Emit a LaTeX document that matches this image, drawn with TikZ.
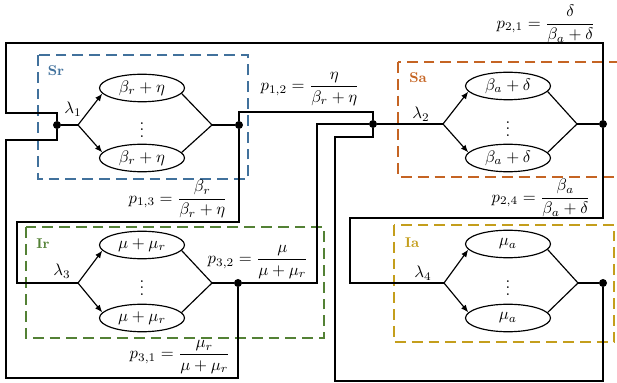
\documentclass[tikz,border=0pt]{standalone}
\usepackage{amsmath}
\usetikzlibrary{shapes.geometric,arrows.meta}
\definecolor{srblue}{RGB}{65,113,156}
\definecolor{saorange}{RGB}{197,100,35}
\definecolor{irgreen}{RGB}{83,129,53}
\definecolor{iayellow}{RGB}{196,158,28}
\begin{document}
\begin{tikzpicture}[x=0.6pt,y=-0.6pt,
  wire/.style={line width=0.7pt, black},
  server/.style={ellipse, draw, line width=0.7pt, minimum width=51pt,
    minimum height=16.5pt, inner sep=0pt},
  forkarrow/.style={wire, -{Latex[length=4.5pt,width=3.6pt]}},
  junction/.style={circle, fill, inner sep=0pt, minimum size=4.8pt},
  group/.style={line width=1.3pt, dash pattern=on 6.5pt off 3.6pt},
  grouplabel/.style={font=\fontsize{8.5}{10}\selectfont\bfseries},
  ellipsis/.style={inner sep=0pt},
  prob/.style={inner sep=0pt},
  rate/.style={inner sep=0pt}]
\useasboundingbox (0,0) rectangle (617,383);

% dashed group frames
\draw[group, srblue]   (38,55)   rectangle (248,179);
\draw[group, saorange] (398,62)  rectangle (621,177);
\draw[group, irgreen]  (26,227)  rectangle (324,338);
\draw[group, iayellow] (394,225) rectangle (614,342);
\node[grouplabel, text=srblue]   (lsr) at (56,71)  {Sr};
\node[grouplabel, text=saorange] (lsa) at (418,78) {Sa};
\node[grouplabel, text=irgreen]  (lir) at (43,244) {Ir};
\node[grouplabel, text=iayellow] (lia) at (412,243) {Ia};

% junction points
\node[junction] (i1) at (57,125) {};
\node[junction] (d1) at (239,125) {};
\node[junction] (m)  at (373,124) {};
\node[junction] (d2) at (603,124) {};
\node[junction] (d3) at (238,283) {};
\node[junction] (d4) at (603,283) {};

% fork and join points
\coordinate (f1) at (78,125);  \coordinate (j1) at (212,125);
\coordinate (f2) at (443,124); \coordinate (j2) at (577,124);
\coordinate (f3) at (78,283);  \coordinate (j3) at (212,283);
\coordinate (f4) at (444,283); \coordinate (j4) at (578,283);

% servers
\node[server] (e1a) at (142,88)  {$\beta_r+\eta$};
\node[server] (e1b) at (142,158) {$\beta_r+\eta$};
\node[ellipsis] (v1) at (142,125) {$\vdots$};
\node[server] (e2a) at (508,86)  {$\beta_a+\delta$};
\node[server] (e2b) at (508,158) {$\beta_a+\delta$};
\node[ellipsis] (v2) at (508,124) {$\vdots$};
\node[server] (e3a) at (142,245) {$\mu+\mu_r$};
\node[server] (e3b) at (142,318) {$\mu+\mu_r$};
\node[ellipsis] (v3) at (142,283) {$\vdots$};
\node[server] (e4a) at (508,244) {$\mu_a$};
\node[server] (e4b) at (508,318) {$\mu_a$};
\node[ellipsis] (v4) at (508,283) {$\vdots$};

% arrival rates
\node[rate] (l1) at (73,109)  {$\lambda_1$};
\node[rate] (l2) at (421,114) {$\lambda_2$};
\node[rate] (l3) at (62,271)  {$\lambda_3$};
\node[rate] (l4) at (423,273) {$\lambda_4$};

% parallel branches inside each group
\draw[wire] (i1) -- (f1);
\draw[forkarrow] (f1) -- (e1a.188);
\draw[forkarrow] (f1) -- (e1b.172);
\draw[wire] (e1a.-8) -- (j1) -- (e1b.8);
\draw[wire] (j1) -- (d1);

\draw[wire] (m) -- (f2);
\draw[forkarrow] (f2) -- (e2a.188);
\draw[forkarrow] (f2) -- (e2b.172);
\draw[wire] (e2a.-8) -- (j2) -- (e2b.8);
\draw[wire] (j2) -- (d2);

\draw[forkarrow] (f3) -- (e3a.188);
\draw[forkarrow] (f3) -- (e3b.172);
\draw[wire] (e3a.-8) -- (j3) -- (e3b.8);
\draw[wire] (j3) -- (d3);

\draw[forkarrow] (f4) -- (e4a.188);
\draw[forkarrow] (f4) -- (e4b.172);
\draw[wire] (e4a.-8) -- (j4) -- (e4b.8);
\draw[wire] (j4) -- (d4);

% routing between groups
\draw[wire] (d2) -- (603,43) -- (6,43) -- (6,113) -| (i1);
\draw[wire] (d3) -- (238,378) -- (6,378) -- (6,140) -| (i1);
\draw[wire] (d1) -- (239,222) -- (17,222) |- (f3);
\draw[wire] (d1) -- (239,112) -| (m);
\draw[wire] (d3) -- (317,283) |- (m);
\draw[wire] (d4) -- (603,381) -- (335,381) -- (335,137) -| (m);
\draw[wire] (d2) -- (603,218) -- (350,218) |- (f4);

% routing probabilities
\node[prob] (p21) at (546,24)  {$p_{2,1}=\dfrac{\delta}{\beta_a+\delta}$};
\node[prob] (p12) at (310,89)  {$p_{1,2}=\dfrac{\eta}{\beta_r+\eta}$};
\node[prob] (p13) at (178,199) {$p_{1,3}=\dfrac{\beta_r}{\beta_r+\eta}$};
\node[prob] (p24) at (541,198) {$p_{2,4}=\dfrac{\beta_a}{\beta_a+\delta}$};
\node[prob] (p32) at (258,262) {$p_{3,2}=\dfrac{\mu}{\mu+\mu_r}$};
\node[prob] (p31) at (180,357) {$p_{3,1}=\dfrac{\mu_r}{\mu+\mu_r}$};
\end{tikzpicture}
\end{document}
